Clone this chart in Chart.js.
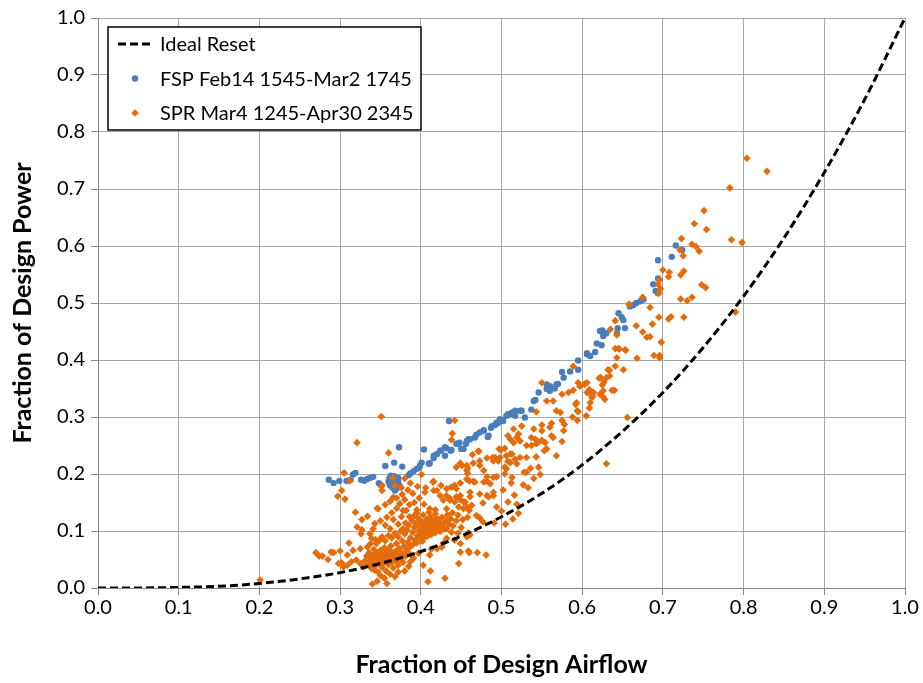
<!DOCTYPE html>
<html>
<head>
<meta charset="utf-8">
<script src="https://cdn.jsdelivr.net/npm/chart.js@4.4.1/dist/chart.umd.min.js"></script>
<style>
  html, body { margin: 0; padding: 0; background: #fff; }
  #wrap { width: 923px; height: 683px; position: relative; }
</style>
</head>
<body>
<div id="wrap"><canvas id="fanChart"></canvas></div>
<script>
// cube-law reference curve (read at 0.05 steps)
const idealAirflow = [0, 0.05, 0.1, 0.15, 0.2, 0.25, 0.3, 0.35, 0.4, 0.45, 0.5, 0.55, 0.6, 0.65, 0.7, 0.75, 0.8, 0.85, 0.9, 0.95, 1.0];
const idealPower   = [0, 0.0001, 0.001, 0.003, 0.008, 0.016, 0.027, 0.043, 0.064, 0.091, 0.125, 0.166, 0.216, 0.275, 0.343, 0.422, 0.512, 0.614, 0.729, 0.857, 1.0];

// FSP period: [airflow, power]
const fspPoints = [
  [0.286,0.190],[0.292,0.184],[0.299,0.188],[0.308,0.188],[0.313,0.190],[0.316,0.199],[0.319,0.202],
  [0.326,0.190],[0.330,0.188],[0.333,0.191],[0.337,0.193],[0.341,0.195],[0.348,0.184],[0.356,0.214],
  [0.360,0.186],[0.362,0.180],[0.364,0.192],[0.366,0.184],[0.367,0.196],[0.368,0.178],[0.369,0.188],
  [0.370,0.174],[0.371,0.182],[0.372,0.193],[0.363,0.197],[0.365,0.176],[0.368,0.171],[0.372,0.186],
  [0.374,0.179],[0.361,0.192],[0.367,0.220],[0.373,0.247],[0.377,0.213],[0.385,0.198],[0.387,0.201],
  [0.391,0.205],[0.395,0.209],[0.398,0.211],[0.399,0.215],[0.401,0.220],[0.404,0.243],[0.410,0.218],
  [0.411,0.219],[0.416,0.228],[0.416,0.232],[0.420,0.235],[0.424,0.241],[0.425,0.241],[0.430,0.232],
  [0.430,0.247],[0.432,0.245],[0.435,0.293],[0.437,0.241],[0.438,0.242],[0.444,0.253],[0.446,0.253],
  [0.448,0.255],[0.450,0.244],[0.453,0.244],[0.456,0.253],[0.457,0.258],[0.459,0.261],[0.461,0.261],
  [0.467,0.264],[0.469,0.269],[0.473,0.273],[0.478,0.277],[0.478,0.276],[0.483,0.265],[0.484,0.267],
  [0.487,0.281],[0.488,0.284],[0.492,0.286],[0.494,0.290],[0.496,0.290],[0.498,0.294],[0.498,0.296],
  [0.502,0.293],[0.506,0.302],[0.508,0.305],[0.511,0.305],[0.513,0.308],[0.517,0.302],[0.517,0.311],
  [0.523,0.311],[0.525,0.311],[0.529,0.299],[0.537,0.313],[0.540,0.328],[0.542,0.330],[0.546,0.343],
  [0.556,0.349],[0.556,0.357],[0.560,0.354],[0.560,0.346],[0.566,0.350],[0.568,0.357],[0.570,0.358],
  [0.575,0.379],[0.577,0.369],[0.585,0.380],[0.595,0.399],[0.595,0.383],[0.606,0.412],[0.606,0.410],
  [0.610,0.407],[0.616,0.414],[0.618,0.429],[0.622,0.451],[0.624,0.426],[0.625,0.452],[0.626,0.442],
  [0.630,0.447],[0.643,0.447],[0.644,0.456],[0.645,0.482],[0.649,0.475],[0.651,0.470],[0.653,0.456],
  [0.659,0.494],[0.663,0.496],[0.667,0.500],[0.672,0.503],[0.676,0.506],[0.688,0.533],[0.691,0.521],
  [0.694,0.517],[0.694,0.543],[0.694,0.575],[0.711,0.581],[0.716,0.601],[0.724,0.593]
];

// SPR period: [airflow, power]
const sprPoints = [
  // low-flow tail
  [0.201,0.014],[0.270,0.062],[0.274,0.056],[0.278,0.056],[0.285,0.050],[0.289,0.063],[0.292,0.062],
  [0.300,0.065],[0.309,0.058],[0.298,0.043],[0.302,0.044],[0.304,0.037],[0.309,0.040],[0.314,0.046],
  [0.320,0.049],[0.325,0.043],[0.329,0.037],[0.311,0.079],[0.316,0.066],[0.325,0.069],
  [0.351,0.301],[0.321,0.255],[0.360,0.237],[0.305,0.202],[0.312,0.188],[0.302,0.171],[0.297,0.161],
  [0.306,0.156],[0.346,0.140],[0.352,0.180],[0.352,0.171],[0.319,0.133],[0.327,0.120],[0.334,0.126],
  [0.321,0.107],[0.327,0.102],[0.326,0.095],[0.365,0.193],[0.351,0.178],[0.347,0.139],
  // dense group near 0.35
  [0.331,0.048],[0.333,0.056],[0.335,0.041],[0.336,0.062],[0.338,0.050],[0.339,0.034],[0.340,0.057],
  [0.341,0.045],[0.342,0.068],[0.343,0.052],[0.344,0.039],[0.345,0.061],[0.346,0.047],[0.347,0.028],
  [0.348,0.055],[0.349,0.043],[0.350,0.066],[0.351,0.051],[0.352,0.036],[0.353,0.058],[0.354,0.044],
  [0.355,0.071],[0.356,0.053],[0.357,0.030],[0.358,0.048],[0.359,0.059],[0.360,0.041],[0.361,0.067],
  [0.362,0.052],[0.363,0.074],[0.364,0.045],[0.365,0.060],[0.366,0.035],[0.367,0.054],[0.368,0.064],
  [0.369,0.047],[0.370,0.078],[0.371,0.057],[0.372,0.040],[0.373,0.069],[0.374,0.051],[0.376,0.062],
  [0.377,0.083],[0.378,0.045],[0.379,0.073],[0.381,0.056],[0.383,0.064],[0.385,0.038],[0.386,0.071],
  [0.388,0.058],[0.350,0.022],[0.355,0.017],[0.362,0.024],[0.368,0.020],[0.346,0.012],[0.358,0.008],
  [0.372,0.028],[0.380,0.030],[0.340,0.007],[0.343,0.031],[0.347,0.058],[0.354,0.049],[0.358,0.063],
  [0.334,0.072],[0.338,0.078],[0.344,0.085],[0.352,0.090],[0.356,0.083],[0.364,0.088],[0.368,0.096],
  [0.372,0.090],[0.375,0.100],[0.362,0.104],[0.356,0.110],[0.350,0.118],[0.358,0.124],[0.366,0.120],
  [0.372,0.112],[0.376,0.125],[0.364,0.132],[0.370,0.140],[0.356,0.146],[0.362,0.152],[0.374,0.148],
  [0.380,0.155],[0.386,0.146],[0.392,0.150],[0.398,0.158],[0.390,0.166],[0.384,0.172],[0.396,0.178],
  [0.380,0.192],[0.376,0.176],[0.341,0.104],[0.337,0.095],[0.339,0.087],[0.345,0.078],[0.349,0.084],
  [0.343,0.113],[0.360,0.092],[0.366,0.159],[0.370,0.158],[0.377,0.164],[0.368,0.180],
  // dense group near 0.40
  [0.380,0.095],[0.383,0.102],[0.385,0.110],[0.387,0.088],[0.389,0.118],[0.390,0.098],[0.392,0.106],
  [0.393,0.084],[0.394,0.113],[0.396,0.092],[0.397,0.122],[0.398,0.101],[0.399,0.109],[0.400,0.087],
  [0.401,0.116],[0.402,0.096],[0.403,0.128],[0.404,0.104],[0.405,0.112],[0.406,0.099],[0.407,0.120],
  [0.408,0.091],[0.409,0.107],[0.410,0.115],[0.411,0.101],[0.412,0.125],[0.413,0.094],[0.414,0.110],
  [0.415,0.118],[0.416,0.104],[0.418,0.097],[0.419,0.113],[0.420,0.122],[0.421,0.106],[0.423,0.116],
  [0.424,0.099],[0.426,0.124],[0.427,0.111],[0.429,0.103],[0.431,0.118],[0.433,0.128],[0.435,0.112],
  [0.384,0.080],[0.390,0.076],[0.395,0.079],[0.402,0.082],[0.378,0.104],[0.381,0.114],[0.386,0.125],
  [0.395,0.131],[0.410,0.133],[0.418,0.130],[0.437,0.121],[0.440,0.109],[0.444,0.118],[0.446,0.128],
  [0.439,0.132],[0.452,0.120],[0.450,0.106],[0.446,0.096],[0.378,0.136],[0.382,0.136],[0.392,0.127],
  [0.395,0.137],[0.404,0.147],[0.411,0.139],[0.382,0.069],[0.387,0.046],[0.391,0.052],[0.397,0.061],
  [0.403,0.040],[0.405,0.090],[0.409,0.011],[0.412,0.030],[0.430,0.017],[0.411,0.058],[0.413,0.068],
  [0.420,0.069],[0.426,0.072],[0.428,0.079],[0.432,0.087],[0.442,0.084],[0.449,0.078],[0.457,0.090],
  [0.426,0.108],[0.432,0.104],[0.438,0.098],[0.459,0.097],[0.461,0.093],[0.447,0.043],[0.449,0.063],
  [0.459,0.065],[0.460,0.062],[0.470,0.062],[0.481,0.058],
  // middle band
  [0.401,0.199],[0.387,0.184],[0.415,0.186],[0.406,0.176],[0.405,0.168],[0.420,0.171],[0.425,0.180],
  [0.432,0.174],[0.438,0.177],[0.428,0.154],[0.436,0.157],[0.444,0.160],[0.449,0.184],[0.453,0.151],
  [0.457,0.142],[0.460,0.136],[0.416,0.187],[0.416,0.171],[0.424,0.162],[0.432,0.162],[0.436,0.154],
  [0.442,0.151],[0.449,0.155],[0.455,0.151],[0.461,0.160],[0.463,0.145],[0.453,0.139],[0.447,0.142],
  [0.432,0.139],[0.418,0.137],[0.444,0.174],[0.473,0.165],[0.482,0.162],[0.477,0.149],[0.490,0.162],
  [0.494,0.142],[0.458,0.124],[0.469,0.127],[0.473,0.123],[0.477,0.116],[0.491,0.114],
  [0.439,0.271],[0.438,0.260],[0.442,0.294],[0.444,0.212],[0.457,0.206],[0.457,0.215],[0.449,0.219],
  [0.458,0.210],[0.465,0.219],[0.472,0.240],[0.473,0.223],[0.482,0.228],[0.490,0.223],[0.492,0.229],
  [0.496,0.223],[0.499,0.242],[0.504,0.245],[0.508,0.222],[0.458,0.201],[0.460,0.188],[0.465,0.187],
  [0.482,0.195],[0.490,0.194],[0.494,0.195],[0.482,0.187],[0.486,0.183],[0.451,0.215],[0.464,0.234],
  [0.471,0.240],[0.473,0.215],[0.478,0.206],[0.489,0.229],[0.497,0.244],[0.498,0.229],[0.442,0.180],
  [0.457,0.191],[0.467,0.186],[0.478,0.186],[0.490,0.168],[0.484,0.160],[0.449,0.162],[0.461,0.168],
  [0.502,0.172],[0.508,0.151],[0.516,0.163],[0.521,0.131],[0.505,0.112],[0.527,0.181],[0.533,0.176],
  [0.540,0.192],[0.548,0.199],[0.536,0.210],[0.512,0.184],[0.519,0.147],[0.500,0.135],[0.514,0.121],
  [0.504,0.200],[0.511,0.220],[0.519,0.218],[0.506,0.209],[0.513,0.194],[0.523,0.229],[0.528,0.203],
  [0.531,0.203],[0.546,0.212],[0.504,0.212],[0.506,0.232],[0.511,0.235],[0.517,0.226],[0.513,0.235],
  [0.531,0.229],[0.543,0.230],[0.568,0.232],[0.553,0.241],[0.556,0.244],[0.543,0.253],[0.537,0.250],
  [0.531,0.250],[0.523,0.258],[0.515,0.255],[0.511,0.261],[0.521,0.270],[0.525,0.284],[0.537,0.264],
  [0.542,0.261],[0.550,0.259],[0.554,0.255],[0.562,0.267],[0.564,0.264],[0.575,0.257],[0.540,0.279],
  [0.550,0.286],[0.550,0.276],[0.562,0.289],[0.575,0.294],[0.578,0.287],[0.577,0.276],[0.519,0.264],
  [0.515,0.279],[0.508,0.267],[0.545,0.255],[0.560,0.282],[0.543,0.309],[0.568,0.311],[0.573,0.308],
  // upper band
  [0.550,0.360],[0.556,0.328],[0.564,0.328],[0.575,0.340],[0.583,0.343],[0.589,0.347],[0.589,0.389],
  [0.593,0.325],[0.595,0.309],[0.588,0.300],[0.594,0.294],[0.605,0.302],[0.595,0.360],[0.603,0.358],
  [0.608,0.343],[0.612,0.334],[0.610,0.325],[0.609,0.316],[0.622,0.340],[0.626,0.335],[0.628,0.331],
  [0.623,0.369],[0.634,0.382],[0.641,0.389],[0.634,0.372],[0.640,0.347],[0.641,0.420],[0.645,0.420],
  [0.654,0.417],[0.656,0.299],[0.630,0.218],[0.592,0.322],[0.594,0.311],[0.606,0.360],[0.609,0.348],
  [0.614,0.343],[0.621,0.368],[0.627,0.361],[0.626,0.346],[0.651,0.383],[0.643,0.404],[0.630,0.369],
  [0.603,0.357],[0.597,0.354],[0.625,0.356],[0.637,0.347],[0.606,0.343],[0.613,0.337],[0.632,0.383],
  [0.641,0.469],[0.635,0.454],[0.643,0.444],[0.646,0.419],[0.653,0.418],[0.668,0.403],[0.689,0.408],
  [0.696,0.408],[0.696,0.404],[0.667,0.460],[0.675,0.449],[0.680,0.440],[0.684,0.441],[0.698,0.431],
  [0.687,0.463],[0.658,0.498],[0.684,0.492],[0.675,0.510],[0.695,0.475],[0.707,0.472],[0.710,0.476],
  [0.726,0.475],[0.722,0.507],[0.730,0.504],[0.736,0.510],[0.696,0.541],[0.694,0.533],[0.697,0.525],
  [0.695,0.517],[0.700,0.558],[0.708,0.554],[0.707,0.546],[0.726,0.556],[0.722,0.549],[0.748,0.532],
  [0.753,0.527],[0.723,0.613],[0.736,0.603],[0.741,0.599],[0.745,0.591],[0.721,0.593],[0.725,0.583],
  [0.739,0.639],[0.754,0.629],[0.751,0.662],[0.783,0.702],[0.785,0.611],[0.798,0.606],[0.790,0.484],
  [0.804,0.754],[0.829,0.731]
];

const toXY = pts => pts.map(p => ({ x: p[0], y: p[1] }));

const FONT = 'Lato, "Open Sans", sans-serif';

// boxed legend in the upper-left corner of the plot
const boxedLegend = {
  id: 'boxedLegend',
  afterDraw(chart) {
    const { ctx, chartArea } = chart;
    const x = chartArea.left + 10, y = chartArea.top + 9, w = 313, h = 103;
    ctx.save();
    ctx.fillStyle = '#fff';
    ctx.fillRect(x, y, w, h);
    ctx.strokeStyle = '#000';
    ctx.lineWidth = 1.5;
    ctx.strokeRect(x, y, w, h);
    ctx.font = '20px ' + FONT;
    ctx.textBaseline = 'middle';
    chart.data.datasets.forEach((ds, i) => {
      const cy = y + 17 + i * 34.5;
      const cx = x + 27;
      if (ds.showLine) {
        ctx.strokeStyle = ds.borderColor;
        ctx.lineWidth = ds.borderWidth;
        ctx.setLineDash(ds.borderDash);
        ctx.beginPath();
        ctx.moveTo(x + 10, cy);
        ctx.lineTo(x + 44, cy);
        ctx.stroke();
        ctx.setLineDash([]);
      } else {
        ctx.fillStyle = ds.backgroundColor;
        ctx.beginPath();
        if (ds.pointStyle === 'circle') {
          ctx.arc(cx, cy, ds.pointRadius, 0, Math.PI * 2);
        } else {
          const r = ds.pointRadius;
          ctx.moveTo(cx, cy - r); ctx.lineTo(cx + r, cy); ctx.lineTo(cx, cy + r); ctx.lineTo(cx - r, cy);
          ctx.closePath();
        }
        ctx.fill();
      }
      ctx.fillStyle = '#000';
      ctx.fillText(ds.label, x + 52, cy + 1);
    });
    ctx.restore();
  }
};

const axisCommon = {
  type: 'linear',
  min: 0,
  max: 1,
  grid: { color: '#a6a6a6', lineWidth: 1, tickLength: 7, tickColor: '#868686' },
  border: { color: '#868686', width: 1 },
  ticks: {
    stepSize: 0.1,
    color: '#000',
    font: { family: FONT, size: 20 },
    callback: v => v.toFixed(1)
  }
};

const ctx = document.getElementById('fanChart').getContext('2d');

new Chart(ctx, {
  type: 'scatter',
  data: {
    datasets: [
      {
        label: 'Ideal Reset',
        data: idealAirflow.map((a, i) => ({ x: a, y: idealPower[i] })),
        showLine: true,
        borderColor: '#000',
        borderWidth: 3,
        borderDash: [8, 4],
        pointRadius: 0,
        cubicInterpolationMode: 'monotone',
        fill: false,
        order: 0
      },
      {
        label: 'FSP Feb14 1545-Mar2 1745',
        data: toXY(fspPoints),
        pointStyle: 'circle',
        pointRadius: 3.2,
        borderWidth: 0,
        backgroundColor: '#4A7EBB',
        borderColor: '#4A7EBB',
        order: 2
      },
      {
        label: 'SPR Mar4 1245-Apr30 2345',
        data: toXY(sprPoints),
        pointStyle: 'rectRot',
        pointRadius: 3.8,
        borderWidth: 0,
        backgroundColor: '#E46C0A',
        borderColor: '#E46C0A',
        order: 1
      }
    ]
  },
  options: {
    responsive: true,
    maintainAspectRatio: false,
    animation: false,
    devicePixelRatio: 1,
    layout: { padding: { top: 15, right: 18, left: 0, bottom: 0 } },
    plugins: {
      legend: { display: false },
      tooltip: { enabled: false }
    },
    scales: {
      x: {
        ...axisCommon,
        ticks: { ...axisCommon.ticks, padding: 1 },
        title: {
          display: true,
          text: 'Fraction of Design Airflow',
          color: '#000',
          font: { family: FONT, size: 25, weight: 'bold' },
          padding: { top: 0, bottom: 3 }
        },
        afterFit: scale => { scale.height = 95; }
      },
      y: {
        ...axisCommon,
        ticks: { ...axisCommon.ticks, padding: 6 },
        title: {
          display: true,
          text: 'Fraction of Design Power',
          color: '#000',
          font: { family: FONT, size: 25, weight: 'bold' },
          padding: { top: 8, bottom: 0 }
        },
        afterFit: scale => { scale.width = 98; }
      }
    }
  },
  plugins: [boxedLegend]
});
</script>
</body>
</html>
